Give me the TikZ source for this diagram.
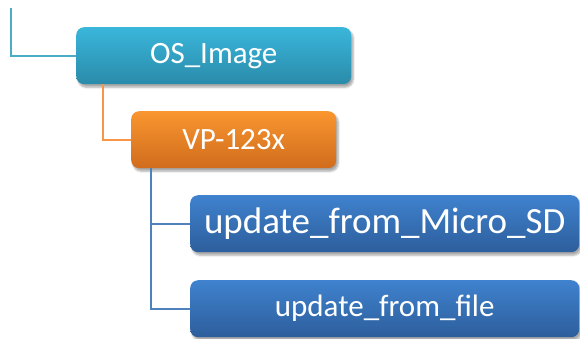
\documentclass[tikz,border=0pt]{standalone}
\usepackage{fontspec}
\setmainfont{Carlito}
\usetikzlibrary{shadows.blur,calc}
\definecolor{tealtop}{HTML}{3AB6DB}
\definecolor{tealbot}{HTML}{2A8BAA}
\definecolor{orgtop}{HTML}{F9962F}
\definecolor{orgbot}{HTML}{D06C1D}
\definecolor{blutop}{HTML}{3F82CE}
\definecolor{blubot}{HTML}{2D5E9C}
\definecolor{tealline}{HTML}{4BACC6}
\definecolor{orgline}{HTML}{F79646}
\definecolor{bluline}{HTML}{4F81BD}
\tikzset{
  box/.style={rectangle, rounded corners=8pt, anchor=north west, inner sep=0pt,
    text=white, align=center,
    blur shadow={shadow xshift=2pt, shadow yshift=-3pt, shadow blur steps=6, shadow opacity=35}},
  tealbox/.style={box, top color=tealtop, bottom color=tealbot},
  orgbox/.style={box, top color=orgtop, bottom color=orgbot},
  blubox/.style={box, top color=blutop, bottom color=blubot},
  conn/.style={line width=1.8pt},
}
\begin{document}
\begin{tikzpicture}[x=1pt,y=-1pt]
\useasboundingbox (0,0) rectangle (580,338);
\node[tealbox, minimum width=275pt, minimum height=57pt,
  font=\fontsize{31}{36}\selectfont] (os) at (76,27) {OS\_Image};
\node[orgbox, minimum width=205pt, minimum height=57pt,
  font=\fontsize{31}{36}\selectfont] (vp) at (131,111) {VP-123x};
\node[blubox, minimum width=389pt, minimum height=57pt,
  font=\fontsize{37}{42}\selectfont] (sd) at (190,195) {update\_from\_Micro\_SD};
\node[blubox, minimum width=389pt, minimum height=57pt,
  font=\fontsize{31}{36}\selectfont] (file) at (190,280) {update\_from\_file};
\coordinate (start) at (11,8);
\draw[conn, tealline] (start) |- (os.west);
\draw[conn, orgline] ($(os.south west)+(27,0)$) |- (vp.west);
\draw[conn, bluline] ($(vp.south west)+(20,0)$) |- (sd.west);
\draw[conn, bluline] ($(vp.south west)+(20,0)$) |- (file.west);
\end{tikzpicture}
\end{document}
